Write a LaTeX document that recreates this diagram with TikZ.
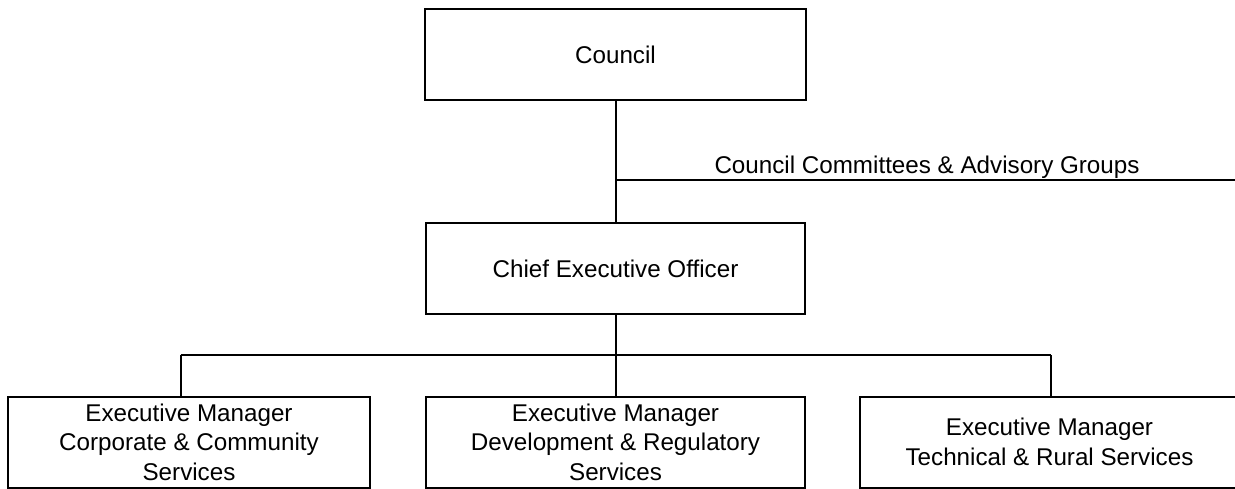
\documentclass[tikz,border=0pt]{standalone}
\usepackage{fontspec}
\setmainfont{Liberation Sans}
\usepackage{tikz}
\usetikzlibrary{positioning}
\tikzstyle{block} = [draw, rectangle, line width=1pt, minimum height=45.5pt, minimum width=189.5pt, align=center]
\tikzstyle{link} = [line width=1pt]
\begin{document}
\begin{tikzpicture}[x=0.5pt, y=-0.5pt, font=\fontsize{12.1}{14.8}\selectfont]
\useasboundingbox (0,0) rectangle (1235,488);

\node [block, minimum width=190.5pt] (council) at (615.5,54.5) {Council};
\node [coordinate, below of=council, node distance=62.75pt] (committees) {};
\node [coordinate, right of=committees, node distance=309.5pt] (committeesEnd) {};

\node [block, below of=council, node distance=107pt] (ceo) {Chief Executive Officer};
\node [coordinate, below of=ceo, node distance=43.25pt] (bus) {};
\node [coordinate, left of=bus, node distance=217.5pt] (busL) {};
\node [coordinate, right of=bus, node distance=217.5pt] (busR) {};

\node [block, below of=ceo, node distance=86.75pt] (devreg) {Executive Manager\\Development \& Regulatory\\Services};
\node [block, left of=devreg, node distance=213.25pt, minimum width=181pt] (corpcom) {Executive Manager\\Corporate \& Community\\Services};
\node [block, right of=devreg, node distance=217pt] (techrural) {Executive Manager\\Technical \& Rural Services};

\draw [link] (council) -- (ceo);
\draw [link] (committees) -- node [above, inner sep=0pt, xshift=1pt] {Council Committees \& Advisory Groups} (committeesEnd);
\draw [link] (ceo) -- (devreg);
\draw [link] (busL) -- (busR);
\draw [link] (busL) -- (busL |- corpcom.north);
\draw [link] (busR) -- (busR |- techrural.north);

\end{tikzpicture}
\end{document}
